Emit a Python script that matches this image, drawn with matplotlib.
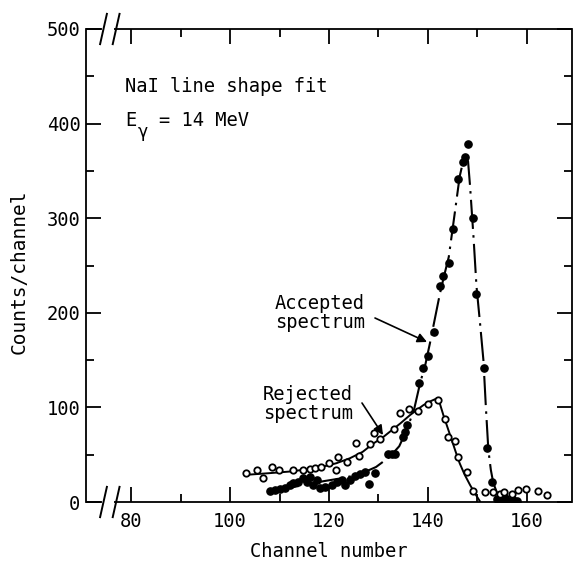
import numpy as np
import matplotlib
matplotlib.use("Agg")
import matplotlib.pyplot as plt

plt.rcParams['font.family'] = ['DejaVu Sans Mono', 'DejaVu Sans']

# accepted spectrum (filled points)
acc_x = [108.1, 109.1, 110.1, 111.1, 112.1, 112.8, 113.8, 114.8, 115.5, 116.2,
         116.8, 117.5, 118.2, 119.2, 120.6, 121.6, 122.6, 123.3, 124.2, 125.3,
         126.3, 127.3, 128.0, 129.3, 131.9, 132.7, 133.3, 135.0, 135.4, 135.7,
         138.2, 138.9, 140.1, 141.3, 142.4, 143.1, 144.2, 145.1, 146.1, 147.1,
         147.5, 148.0, 149.1, 149.8, 151.3, 152.0, 152.9, 154.0, 154.8, 155.6,
         156.4, 157.2, 158.0]
acc_y = [11.6, 12.7, 13.4, 14.4, 18.0, 19.7, 21.5, 25.0, 21.0, 26.8,
         18.0, 23.0, 14.4, 16.0, 18.0, 21.5, 23.0, 18.0, 23.0, 28.0,
         29.6, 32.0, 18.5, 31.0, 50.7, 50.7, 50.7, 69.0, 74.3, 81.4,
         126.0, 142.0, 154.0, 180.0, 228.7, 238.9, 252.3, 289.0, 341.4, 359.0,
         365.0, 378.9, 300.0, 220.0, 142.0, 57.4, 21.5, 3.0, 1.5, 4.0,
         1.0, 2.5, 1.0]

# rejected spectrum (open points)
rej_x = [103.2, 105.4, 106.6, 108.4, 109.9, 112.7, 114.8, 116.2, 117.2, 118.4,
         119.9, 121.4, 121.9, 123.6, 125.4, 126.1, 128.3, 129.1, 130.3, 133.1,
         134.3, 136.2, 138.0, 140.1, 142.1, 143.4, 144.1, 145.5, 146.1, 147.8,
         149.0, 151.5, 153.1, 154.6, 155.4, 156.9, 158.2, 159.9, 162.3, 164.0]
rej_y = [30.3, 33.8, 25.0, 37.3, 33.8, 33.8, 33.8, 34.5, 35.6, 37.3,
         40.8, 33.8, 47.2, 42.6, 62.6, 48.9, 60.9, 72.5, 66.1, 76.7,
         94.1, 98.6, 95.8, 103.6, 108.2, 88.1, 68.7, 64.4, 47.9, 31.7,
         11.6, 10.6, 10.6, 8.1, 10.6, 8.9, 12.3, 14.1, 11.6, 7.4]

# fitted line shapes
acc_fit_x = [108.1, 113.0, 118.9, 123.0, 126.3, 129.5, 132.3, 134.2, 135.7, 137.2,
             138.4, 139.5, 140.4, 141.4, 142.4, 143.3, 144.2, 145.4, 146.4, 147.1,
             147.6, 148.1, 148.5, 149.2, 149.8, 150.5, 151.2, 151.7, 152.2, 152.7,
             153.2, 154.0, 154.9, 156.5, 158.0]
acc_fit_y = [11.0, 16.0, 22.0, 25.5, 29.6, 37.0, 47.9, 59.0, 76.1, 98.0,
             125.5, 146.0, 168.0, 194.0, 220.0, 240.0, 259.0, 305.0, 344.0, 360.0,
             367.0, 360.0, 334.0, 280.0, 228.0, 190.0, 150.0, 100.0, 55.0, 34.0,
             20.0, 9.0, 4.0, 2.0, 2.0]
rej_fit_x = [103.2, 108.0, 112.1, 115.5, 118.9, 121.5, 124.2, 126.8, 129.0, 130.8,
             132.3, 134.4, 136.4, 137.8, 139.1, 140.5, 141.8, 142.4, 143.1, 144.0,
             144.8, 145.6, 146.4, 147.4, 148.5, 149.5, 150.5]
rej_fit_y = [28.7, 30.5, 32.2, 34.5, 37.5, 41.0, 46.2, 53.0, 62.0, 68.0,
             74.3, 83.0, 92.0, 97.5, 102.5, 106.5, 109.5, 104.0, 92.0, 78.0,
             65.6, 53.0, 41.0, 29.0, 18.0, 9.0, 0.7]

x_major = [80, 100, 120, 140, 160]
x_minor = [90, 110, 130, 150]
y_major = [0, 100, 200, 300, 400, 500]
y_minor = [50, 150, 250, 350, 450]

W, H = 574, 563
fig = plt.figure(figsize=(W / 100, H / 100), dpi=100)
ax = fig.add_axes([86 / W, 1 - 502 / H, 486 / W, 473 / H])


def px(x, y):
    """pixel position in the picture -> figure fraction"""
    return x / W, 1 - y / H


ax.plot(acc_fit_x, acc_fit_y, color='black', lw=1.5,
        linestyle=(0, (14, 3, 1.2, 3)), zorder=2)
ax.plot(rej_fit_x, rej_fit_y, color='black', lw=1.4, zorder=2)
ax.plot(acc_x, acc_y, 'o', color='black', ms=5.2, zorder=3)
ax.plot(rej_x, rej_y, 'o', mfc='white', mec='black', mew=1.3, ms=4.6, zorder=4)

ax.set_xlim(70.9, 169.1)
ax.set_ylim(0, 500)
ax.set_xticks(x_major)
ax.set_xticks(x_minor, minor=True)
ax.set_yticks(y_major)
ax.set_yticks(y_minor, minor=True)
ax.tick_params(which='both', direction='in', top=True, right=True,
               width=1.3, labelsize=13.5, color='black')
ax.tick_params(which='major', length=11)
ax.tick_params(which='minor', length=5.5)
ax.tick_params(axis='x', pad=7)
ax.tick_params(axis='y', pad=4)

for s in ax.spines.values():
    s.set_linewidth(1.3)
ax.spines['top'].set_visible(False)
ax.spines['bottom'].set_visible(False)

# broken x axis: spines drawn by hand with a gap and // marks
gap0, gap1 = 0.032, 0.058
for yy in (0, 1):
    ax.plot([0, gap0], [yy, yy], transform=ax.transAxes, color='black',
            lw=1.3, clip_on=False, solid_capstyle='butt')
    ax.plot([gap1, 1], [yy, yy], transform=ax.transAxes, color='black',
            lw=1.3, clip_on=False, solid_capstyle='butt')
    for cx in (0.036, 0.062):
        ax.plot([cx - 0.007, cx + 0.007], [yy - 0.032, yy + 0.032],
                transform=ax.transAxes, color='black', lw=1.4, clip_on=False)

ax.set_xlabel('Channel number', fontsize=13.5, labelpad=8)
fig.text(*px(19, 272), 'Counts/channel', rotation=90, fontsize=14,
         ha='center', va='center')

fig.text(*px(125, 92), 'NaI line shape fit', fontsize=13.5, va='baseline')
fig.text(*px(125, 126), 'E', fontsize=13.5, va='baseline')
fig.text(*px(137.5, 137), 'γ', fontsize=12.5, va='baseline')
fig.text(*px(159, 126), '= 14 MeV', fontsize=13.5, va='baseline')

fig.text(*px(275, 313), 'Accepted\nspectrum', fontsize=13.5, va='center',
         linespacing=0.95)
fig.text(*px(263, 404), 'Rejected\nspectrum', fontsize=13.5, va='center',
         linespacing=0.95)
ax.annotate('', xy=px(427, 342), xytext=px(375, 318),
            xycoords='figure fraction', textcoords='figure fraction',
            arrowprops=dict(arrowstyle='-|>', color='black', lw=1.2,
                            mutation_scale=14, shrinkA=0, shrinkB=0))
ax.annotate('', xy=px(383, 435), xytext=px(362, 403),
            xycoords='figure fraction', textcoords='figure fraction',
            arrowprops=dict(arrowstyle='-|>', color='black', lw=1.2,
                            mutation_scale=14, shrinkA=0, shrinkB=0))

fig.savefig('out.png', dpi=100)
